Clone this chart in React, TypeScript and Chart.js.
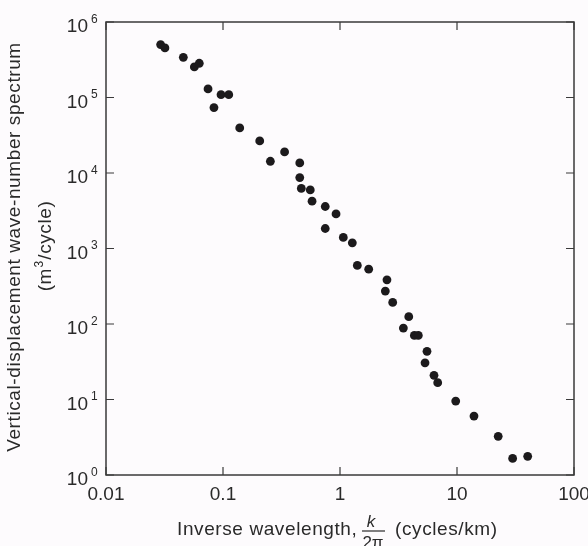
import React, { useEffect, useRef } from "react";
import { Chart, registerables } from "chart.js";

Chart.register(...registerables);

// Inverse wavelength k/2π (cycles/km)
const waveNumbers = [
  0.0293, 0.0319, 0.0458, 0.0569, 0.0627, 0.0745, 0.0837, 0.0962, 0.112, 0.139,
  0.206, 0.254, 0.336, 0.453, 0.453, 0.467, 0.557, 0.577, 0.748, 0.748,
  0.925, 1.067, 1.274, 1.406, 1.759, 2.52, 2.44, 2.82, 3.87, 3.48,
  4.32, 4.67, 5.54, 5.33, 6.36, 6.84, 9.75, 13.97, 22.5, 29.9, 40.2,
];
// Vertical-displacement wave-number spectrum (m^3/cycle)
const spectrum = [
  502000, 453000, 341000, 254000, 284000, 130000, 73600, 109000, 109000, 39500,
  26600, 14300, 19000, 13600, 8710, 6240, 5970, 4230, 3600, 1840,
  2870, 1400, 1190, 597, 533, 385, 273, 193, 125, 88.3,
  70.6, 70.6, 43.4, 30.6, 20.9, 16.7, 9.54, 6.04, 3.25, 1.66, 1.77,
];

const xTicks = [0.01, 0.1, 1, 10, 100];
const xTickLabels = ["0.01", "0.1", "1", "10", "100"];
const yTicks = [1, 10, 100, 1000, 10000, 100000, 1000000];
const yTickExponents = ["0", "1", "2", "3", "4", "5", "6"];

const yTitleLine1 = "Vertical-displacement wave-number spectrum";
const yTitleLine2 = ["(m", "3", "/cycle)"];
const xTitleParts = ["Inverse wavelength,", "k", "2\u03c0", "(cycles/km)"];

const FONT = "'Liberation Sans', Arial, Helvetica, sans-serif";
const TEXT = "#2a2a2a";
const FRAME = "#3a3a3a";

const decorPlugin = {
  id: "decor",
  afterDatasetsDraw(chart: any) {
    const { ctx, chartArea: a, scales } = chart;
    const xs = scales.x;
    const ys = scales.y;
    ctx.save();
    ctx.strokeStyle = FRAME;
    ctx.lineWidth = 1.5;
    ctx.strokeRect(a.left, a.top, a.right - a.left, a.bottom - a.top);
    const tl = 8;
    ctx.lineWidth = 1.2;
    ctx.beginPath();
    xTicks.forEach((v) => {
      const px = xs.getPixelForValue(v);
      ctx.moveTo(px, a.bottom);
      ctx.lineTo(px, a.bottom - tl);
      ctx.moveTo(px, a.top);
      ctx.lineTo(px, a.top + tl);
    });
    yTicks.forEach((v) => {
      const py = ys.getPixelForValue(v);
      ctx.moveTo(a.left, py);
      ctx.lineTo(a.left + tl, py);
      ctx.moveTo(a.right, py);
      ctx.lineTo(a.right - tl, py);
    });
    ctx.stroke();
    ctx.restore();
  },
  afterDraw(chart: any) {
    const { ctx, scales } = chart;
    const ys = scales.y;
    ctx.save();
    ctx.fillStyle = TEXT;
    ctx.textBaseline = "alphabetic";
    // y tick labels 10^n
    yTicks.forEach((v, i) => {
      const py = ys.getPixelForValue(v);
      ctx.font = `19px ${FONT}`;
      ctx.textAlign = "right";
      ctx.fillText("10", 88, py + 10);
      ctx.font = `12px ${FONT}`;
      ctx.textAlign = "left";
      ctx.fillText(yTickExponents[i], 91, py + 0.5);
    });

    // y title
    (ctx as any).letterSpacing = "0.6px";
    ctx.save();
    ctx.translate(20, 247);
    ctx.rotate(-Math.PI / 2);
    ctx.font = `19px ${FONT}`;
    ctx.textAlign = "center";
    ctx.fillText(yTitleLine1, 0, 0);
    ctx.restore();

    ctx.save();
    ctx.translate(51, 246);
    ctx.rotate(-Math.PI / 2);
    ctx.textAlign = "left";
    ctx.font = `19px ${FONT}`;
    const w1 = ctx.measureText(yTitleLine2[0]).width;
    const w3 = ctx.measureText(yTitleLine2[2]).width;
    ctx.font = `12px ${FONT}`;
    const w2 = ctx.measureText(yTitleLine2[1]).width + 1;
    let sx = -(w1 + w2 + w3) / 2;
    ctx.font = `19px ${FONT}`;
    ctx.fillText(yTitleLine2[0], sx, 0);
    sx += w1;
    ctx.font = `12px ${FONT}`;
    ctx.fillText(yTitleLine2[1], sx + 0.5, -8);
    sx += w2;
    ctx.font = `19px ${FONT}`;
    ctx.fillText(yTitleLine2[2], sx, 0);
    ctx.restore();

    // x title
    ctx.textAlign = "left";
    ctx.font = `19px ${FONT}`;
    ctx.fillText(xTitleParts[0], 177, 535);
    ctx.fillText(xTitleParts[3], 395, 535);
    (ctx as any).letterSpacing = "0px";
    ctx.textAlign = "center";
    ctx.font = `italic 17px ${FONT}`;
    ctx.fillText(xTitleParts[1], 371, 527);
    ctx.font = `17px ${FONT}`;
    ctx.fillText(xTitleParts[2], 373, 548);
    ctx.strokeStyle = TEXT;
    ctx.lineWidth = 1.2;
    ctx.beginPath();
    ctx.moveTo(362, 531);
    ctx.lineTo(385, 531);
    ctx.stroke();
    ctx.restore();
  },
};

export default function App() {
  const ref = useRef<HTMLCanvasElement | null>(null);

  useEffect(() => {
    document.body.style.margin = "0";
    const canvas = ref.current;
    if (!canvas) return;
    const chart = new Chart(canvas, {
      type: "scatter",
      data: {
        datasets: [
          {
            data: waveNumbers.map((x, i) => ({ x, y: spectrum[i] })),
            backgroundColor: "#1c1a1c",
            borderColor: "#1c1a1c",
            borderWidth: 0,
            pointRadius: 4.4,
          },
        ],
      },
      options: {
        animation: false,
        responsive: false,
        maintainAspectRatio: false,
        devicePixelRatio: 1,
        layout: { padding: { left: 0, top: 22, right: 14, bottom: 0 } },
        plugins: {
          legend: { display: false },
          tooltip: { enabled: false },
        },
        scales: {
          x: {
            type: "logarithmic",
            min: 0.01,
            max: 100,
            afterBuildTicks: (s: any) => {
              s.ticks = xTicks.map((value) => ({ value }));
            },
            afterFit: (s: any) => {
              s.height = 71;
              s.paddingLeft = 0;
              s.paddingRight = 0;
            },
            grid: { display: false, drawTicks: false },
            border: { display: false },
            ticks: {
              padding: 8,
              color: TEXT,
              font: { size: 19, family: FONT },
              maxRotation: 0,
              autoSkip: false,
              callback: (_v: any, i: number) => xTickLabels[i],
            },
          },
          y: {
            type: "logarithmic",
            min: 1,
            max: 1000000,
            afterBuildTicks: (s: any) => {
              s.ticks = yTicks.map((value) => ({ value }));
            },
            afterFit: (s: any) => {
              s.width = 106;
              s.paddingTop = 0;
              s.paddingBottom = 0;
            },
            grid: { display: false, drawTicks: false },
            border: { display: false },
            ticks: { display: false },
          },
        },
      },
      plugins: [decorPlugin],
    });
    return () => chart.destroy();
  }, []);

  return (
    <div
      style={{
        position: "fixed",
        left: 0,
        top: 0,
        width: 588,
        height: 546,
        background: "#fdfbfd",
      }}
    >
      <canvas ref={ref} width={588} height={546} style={{ width: 588, height: 546, display: "block" }} />
    </div>
  );
}
